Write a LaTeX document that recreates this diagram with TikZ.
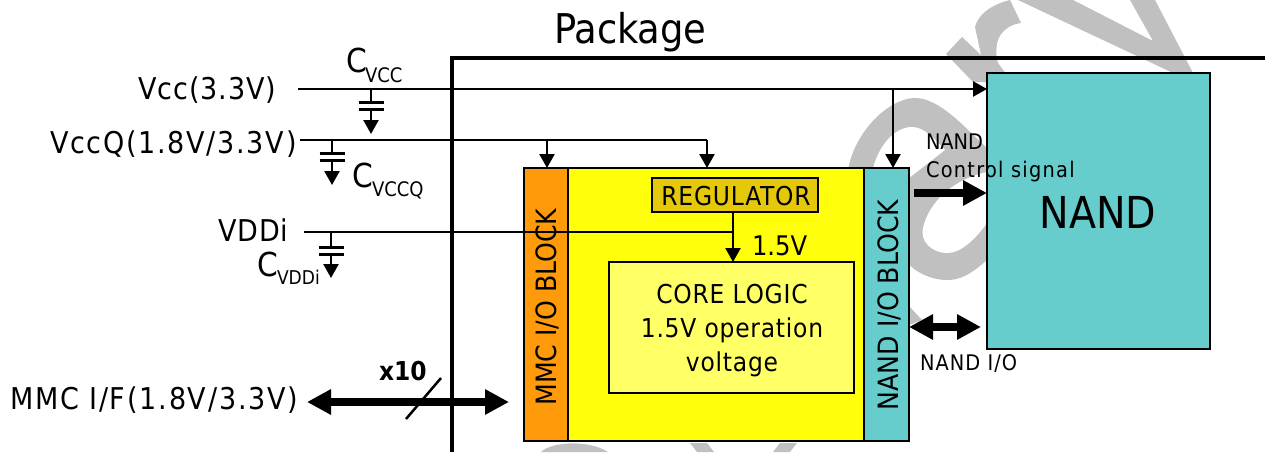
\documentclass[tikz,border=0pt]{standalone}
\usepackage{fontspec}
\setmainfont{DejaVu Sans Condensed}
\usetikzlibrary{arrows.meta,calc}
\newcommand\fsz[2]{\fontsize{#1}{#2}\selectfont}
\newcommand\lsp[1]{\addfontfeature{LetterSpace=#1}}
\definecolor{wm}{HTML}{C0C0C0}
\definecolor{teal}{HTML}{66CCCC}
\definecolor{orng}{HTML}{FF9A0A}
\definecolor{ylw}{HTML}{FFFF0A}
\definecolor{reg}{HTML}{E6C80A}
\definecolor{core}{HTML}{FFFF66}
\tikzset{
 blockbox/.style={draw=black,line width=2.5pt,inner sep=0pt,outer sep=0pt,anchor=north west},
 lab/.style={inner sep=0pt,outer sep=0pt,anchor=base west},
 wire/.style={draw=black,line width=2.5pt},
 thinwire/.style={draw=black,line width=2pt},
 wirearrow/.style={wire,-{Triangle[length=14pt,width=15pt]}},
 bigarrow/.style={draw=black,line width=8pt,-{Triangle[length=24pt,width=24pt]}},
 bigdouble/.style={draw=black,line width=8pt,{Triangle[length=24pt,width=24pt]}-{Triangle[length=24pt,width=24pt]}},
 plate/.style={draw=black,line width=3pt},
}
\begin{document}
\begin{tikzpicture}[x=1pt,y=-1pt]
\useasboundingbox (0,0) rectangle (1265,452);
% watermark
\fill[wm] (1018,0)--(1173,73)--(1193,73)--(1155,0)--(1130,0)--(1153,41)--(1073,0)--cycle;
\fill[wm] (946,54)--(962,37)--(981,55)--(975,27) .. controls (978,15) and (990,5) .. (1010,0)--(1021,23) .. controls (1012,24) and (1000,30) .. (997,43) .. controls (996,50) and (996,58) .. (998,63)--(1012,82)--(973,82)--cycle;
\fill[wm] (848,170) .. controls (855,130) and (890,98) .. (915,98) .. controls (940,98) and (965,128) .. (987,148)--(1000,148)--(1000,240)--(987,260) .. controls (970,275) and (960,280) .. (947,280) .. controls (925,280) and (900,265) .. (895,240)--(895,170)--cycle;
\fill[white] (872,172) .. controls (878,145) and (895,127) .. (912,127) .. controls (925,127) and (935,140) .. (945,150)--(909,178)--(909,172)--cycle;
\fill[white] (923,228) .. controls (928,205) and (950,180) .. (987,172)--(1000,172)--(1000,215)--(987,223) .. controls (975,240) and (960,253) .. (948,253) .. controls (930,253) and (920,240) .. (923,228)--cycle;
\fill[wm] (900,300)--(909,306)--(922,320)--(909,325)--(900,325)--cycle;
\fill[wm] (541,452) .. controls (552,441) and (590,440) .. (608,452)--cycle;
\fill[wm] (690,443)--(707,443)--(714,452)--(697,452)--cycle;
\fill[wm] (797,443)--(780,443)--(773,452)--(790,452)--cycle;
% package frame
\coordinate (pkgbl) at (452,452);
\coordinate (pkgtl) at (452,58);
\coordinate (pkgtr) at (1265,58);
\draw[black,line width=4.5pt] (pkgbl)--(pkgtl)--(pkgtr);
\node[lab] (pkg) at (554,44) {\fsz{41}{41}Package};
% blocks
\node[blockbox,fill=orng,minimum width=44pt,minimum height=273pt] (mmc) at (524,168) {};
\node[blockbox,fill=ylw,minimum width=296pt,minimum height=273pt] (mid) at (568,168) {};
\node[blockbox,fill=teal,minimum width=45pt,minimum height=273pt] (nio) at (864,168) {};
\node[blockbox,fill=reg,minimum width=166pt,minimum height=34pt] (regu) at (652,178) {};
\node[blockbox,fill=core,minimum width=245pt,minimum height=131pt] (cor) at (609,262) {};
\node[blockbox,fill=teal,minimum width=223pt,minimum height=276pt,
  path picture={\shade[top color=teal,bottom color=teal!45!white] (987,320) rectangle (1210,349);}] (nand) at (987,73) {};
\draw[black,line width=2.5pt] (nand.north west) rectangle (nand.south east);
% labels in blocks
\node[inner sep=0pt] (reglab) at (736,196) {\fsz{26}{26}\lsp{3}REGULATOR};
\node[lab] (v15) at (752,255) {\fsz{27}{27}1.5V};
\node[inner sep=0pt,align=center,font=\fsz{26}{34}\lsp{3}] (corelab) at (732,331) {CORE LOGIC\\1.5V operation\\voltage};
\node[inner sep=0pt,rotate=90] (mmclab) at (547,307) {\fsz{28}{28}MMC I/O BLOCK};
\node[inner sep=0pt,rotate=90] (niolab) at (889,305) {\fsz{28}{28}NAND I/O BLOCK};
\node[inner sep=0pt] (nandlab) at (1098,212) {\fsz{44}{44}NAND};
% left labels
\node[lab] (vcc) at (138,99) {\fsz{30}{30}\lsp{3.3}Vcc(3.3V)};
\node[lab] (vccq) at (50,153) {\fsz{30}{30}\lsp{5.8}VccQ(1.8V/3.3V)};
\node[lab] (vddi) at (218,241) {\fsz{30}{30}\lsp{3}VDDi};
\node[lab] (mmcif) at (10,409) {\fsz{30}{30}\lsp{6}MMC I/F(1.8V/3.3V)};
\node[lab] (cvcc) at (346,73) {\fsz{33}{33}C};
\node[lab] (cvccs) at (365,82) {\fsz{20}{20}VCC};
\node[lab] (cvccq) at (352,187) {\fsz{33}{33}C};
\node[lab] (cvccqs) at (372,196) {\fsz{20}{20}VCCQ};
\node[lab] (cvddi) at (257,276) {\fsz{33}{33}C};
\node[lab] (cvddis) at (277,284) {\fsz{19}{19}VDDi};
\node[lab] (x10) at (379,380) {\fsz{26}{26}\bfseries x10};
\node[lab,align=left,font=\fsz{21.5}{28}] (ctl) at (926,177) {NAND\\{\lsp{6}Control signal}};
\node[lab] (nandio) at (920,370) {\fsz{21.5}{21.5}\lsp{5}NAND I/O};
% supply wires
\coordinate (a) at (298,89);
\coordinate (b) at (300,140);
\coordinate (c) at (304,232);
\coordinate (nandin) at (nand.west |- a);
\draw[wirearrow] (a) -- (nandin);
\coordinate (tapn) at (893,89);
\draw[wirearrow] (tapn) -- (tapn |- nio.north);
\coordinate (rtop) at (707,140);
\draw[thinwire] (b) -- (rtop);
\draw[wirearrow] (rtop) -- (rtop |- mid.north);
\coordinate (tapm) at (547,140);
\draw[wirearrow] (tapm) -- (tapm |- mmc.north);
\coordinate (rout) at (733,212);
\draw[wirearrow] (rout) -- (rout |- cor.north);
\coordinate (vj) at (733,232);
\draw[thinwire] (c) -- (vj);
% capacitors
\foreach \n/\cx/\ly/\pa/\pb/\tip in {ca/371/89/102/109/134, cb/332/140/153/160/185, cc/331/232/247/254/278}{
  \coordinate (\n s) at (\cx,\ly);
  \coordinate (\n p) at (\cx,\pa);
  \coordinate (\n q) at (\cx,\pb);
  \coordinate (\n t) at (\cx,\tip);
  \draw[wire] (\n s) -- (\n p);
  \draw[plate] ($(\n p)+(-12.5,0)$) -- ($(\n p)+(12.5,0)$);
  \draw[plate] ($(\n q)+(-12.5,0)$) -- ($(\n q)+(12.5,0)$);
  \draw[wirearrow] (\n q) -- (\n t);
}
% thick arrows
\coordinate (ctrl) at (914,193);
\draw[bigarrow] (ctrl) -- (ctrl -| nand.west);
\coordinate (ioa) at (909,327);
\coordinate (iob) at (981,327);
\draw[bigdouble] (ioa) -- (iob);
\coordinate (ifa) at (307,402);
\coordinate (ifb) at (509,402);
\draw[bigdouble] (ifa) -- (ifb);
\coordinate (sla) at (406,419);
\coordinate (slb) at (441,378);
\draw[black,line width=2.5pt] (sla) -- (slb);
\end{tikzpicture}
\end{document}
